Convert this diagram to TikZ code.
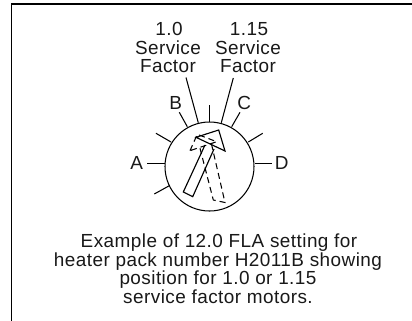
\documentclass[tikz,border=0pt]{standalone}
\usepackage{fontspec}
\setmainfont[LetterSpace=2.4]{Liberation Sans}
\tikzset{
  lbl/.style={inner sep=0pt,align=center,font=\fontsize{19}{19}\selectfont,text=black!90},
  letter/.style={inner sep=0pt,font=\fontsize{19}{19}\selectfont,text=black!90},
  tick/.style={line width=1.05pt,black},
  dashline/.style={line width=1.05pt,dash pattern=on 6pt off 4pt},
  frameline/.style={line width=1.6pt,black}
}
\begin{document}
\begin{tikzpicture}[x=1bp,y=-1bp]
\useasboundingbox (0,0) rectangle (412,321);
\fill[white] (0,0) rectangle (412,321);
\draw[frameline] (412,4) -- (11.5,4) -- (11.5,321);
% dial
\coordinate (ctr) at (209.5,166.5);
\node[circle,draw,line width=1.05pt,minimum size=89bp,inner sep=0pt] (dial) at (ctr) {};
% ticks
\draw[tick] (147,163.3) -- (165,163.3);
\draw[tick] (255,163.3) -- (272,163.3);
\draw[tick] (209.3,105) -- (209.3,122);
\draw[tick] (179.3,112.3) -- (187.3,126.7);
\draw[tick] (240,112.3) -- (231.7,126.7);
\draw[tick] (156,133.3) -- (171,142);
\draw[tick] (262.7,133.3) -- (248.3,142);
\draw[tick] (154.3,194) -- (169.3,185.7);
% service factor leaders
\coordinate (l1) at (186,77.5);
\coordinate (l1e) at (198.3,122.7);
\coordinate (l2) at (233.3,78);
\coordinate (l2e) at (221.3,122.7);
\draw[tick] (l1) -- (l1e);
\draw[tick] (l2) -- (l2e);
% dashed arrow
\draw[dashline] (200,148.3) -- (213.3,200) -- (225,202.5) -- (211.7,145);
\draw[dashline] (190,150.7) -- (197.3,134.3) -- (216.7,141.7) -- cycle;
% solid arrow
\draw[line width=1.15pt,line join=miter] (205,145) -- (183.3,192) -- (192.7,196.7) -- (214,149);
\draw[line width=1.15pt,line join=miter] (196,137.3) -- (218.7,130) -- (225,151) -- cycle;
% labels
\node[lbl,anchor=base] (a1) at (169,35) {1.0};
\node[lbl,anchor=base] (a2) at (168,54) {Service};
\node[lbl,anchor=base] (a3) at (168,72) {Factor};
\node[lbl,anchor=base] (b1) at (249,35) {1.15};
\node[lbl,anchor=base] (b2) at (248,54) {Service};
\node[lbl,anchor=base] (b3) at (248,72) {Factor};
\node[letter] (A) at (136.7,163.3) {A};
\node[letter] (B) at (175.7,102.7) {B};
\node[letter] (C) at (244.3,102.7) {C};
\node[letter] (D) at (281.7,163.3) {D};
\node[lbl,anchor=base] (c1) at (219,247) {Example of 12.0 FLA setting for};
\node[lbl,anchor=base] (c2) at (218,266) {heater pack number H2011B showing};
\node[lbl,anchor=base] (c3) at (218,284) {position for 1.0 or 1.15};
\node[lbl,anchor=base] (c4) at (218,303) {service factor motors.};
\end{tikzpicture}
\end{document}
